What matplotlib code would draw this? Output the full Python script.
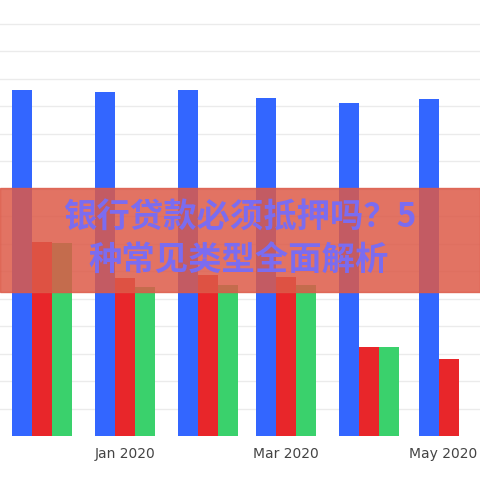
import matplotlib
matplotlib.use("Agg")
import matplotlib.pyplot as plt
import matplotlib.dates as mdates
import matplotlib.transforms as mtransforms
import numpy as np
import datetime as dt

months = ["2019-12-01", "2020-01-01", "2020-02-01", "2020-03-01", "2020-04-01", "2020-05-01"]
blue = [346, 344, 346, 338, 333, 337]
red = [194, 158, 161, 159, 89, 77]
green = [193, 149, 151, 151, 89, None]
tick_labels = ["Jan 2020", "Mar 2020", "May 2020"]
tick_dates = ["2020-01-01", "2020-03-01", "2020-05-01"]
title_lines = ["银行贷款必须抵押吗？5", "种常见类型全面解析"]

fig = plt.figure(figsize=(4.8, 4.8), dpi=100)
ax = fig.add_axes([0, 44/480, 1, 436/480])
x = mdates.date2num([dt.datetime.fromisoformat(m) for m in months])
w = 7.5
ax.set_axisbelow(True)
for k in range(1, 16):
    ax.axhline(k * 27.5, color="#ebebeb", lw=1, zorder=0)
ax.bar(x - w, blue, width=w, color="#3366ff", align="center", zorder=2)
ax.bar(x, red, width=w, color="#e8262a", align="center", zorder=2)
gx = [xi + w for xi, g in zip(x, green) if g is not None]
gv = [g for g in green if g is not None]
ax.bar(gx, gv, width=w, color="#3ad16c", align="center", zorder=2)
t0 = mdates.date2num(dt.datetime(2020, 1, 1))
ax.set_xlim(t0 - 125/2.68, t0 + 355/2.68)
ax.set_ylim(0, 436)
ax.set_xticks(mdates.date2num([dt.datetime.fromisoformat(d) for d in tick_dates]))
ax.set_xticklabels(tick_labels, fontsize=10, color="#444444", family="DejaVu Sans")
ax.tick_params(axis="x", length=0, pad=8)
last = ax.get_xticklabels()[-1]
last.set_transform(last.get_transform() + mtransforms.ScaledTranslation(-6/100, 0, fig.dpi_scale_trans))
ax.set_yticks([])
for s in ax.spines.values():
    s.set_visible(False)
fig.patches.append(plt.Rectangle((0, 1 - 292/480), 1, 104/480, transform=fig.transFigure,
                                 color="#dd5a48", alpha=0.85, zorder=5))
for (tx, ty), line in zip([(63, 218), (88, 261)], title_lines):
    fig.text(tx/480, 1 - ty/480, line, fontsize=24, fontweight="bold", color="#7b6cf0",
             family=["Noto Sans CJK SC", "DejaVu Sans"], ha="left", va="center", zorder=6)
fig.savefig("out.png", dpi=100)
